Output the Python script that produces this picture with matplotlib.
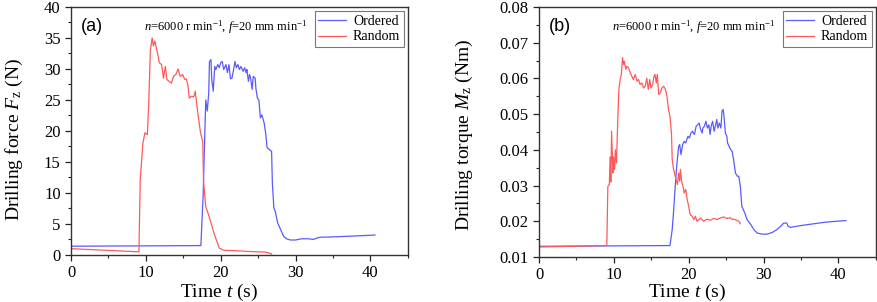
import matplotlib
matplotlib.use("Agg")
import matplotlib.pyplot as plt
from matplotlib.ticker import MultipleLocator, FormatStrFormatter

plt.rcParams['font.family'] = ['Liberation Serif', 'DejaVu Serif']
plt.rcParams['mathtext.fontset'] = 'custom'
plt.rcParams['mathtext.rm'] = 'Liberation Serif'
plt.rcParams['mathtext.it'] = 'Liberation Serif:italic'

# ---- (a) drilling force ----
ta_ord = [0, 17.35, 17.65, 18.0, 18.2, 18.4, 18.5, 18.7, 18.8, 19.0, 19.2, 19.35, 19.6, 19.8, 20.0,
          20.2, 20.4, 20.7, 20.9, 21.1, 21.3, 21.5, 21.8, 21.9, 22.1, 22.3, 22.5, 22.7, 23.0, 23.2,
          23.4, 23.5, 23.7, 23.85, 24.0, 24.2, 24.35, 24.6, 24.7, 24.9, 25.1, 25.3, 25.5, 25.8, 26.0,
          26.2, 26.5, 26.8, 26.9, 27.1, 27.3, 27.6, 28.0, 28.4, 28.8, 29.3, 30.0, 30.8, 31.7, 32.4,
          32.8, 33.3, 34.8, 37.0, 40.6]
fa_ord = [1.4, 1.5, 9.5, 25.0, 23.2, 26.1, 31.2, 31.5, 28.3, 26.4, 30.4, 29.9, 30.7, 30.2, 31.0,
          31.2, 29.9, 30.7, 29.4, 30.7, 28.4, 28.5, 30.4, 31.2, 30.2, 30.7, 29.9, 30.4, 29.6, 30.2,
          29.4, 29.9, 28.0, 29.1, 28.5, 26.7, 28.8, 28.5, 26.9, 25.3, 25.0, 22.1, 22.6, 21.3, 19.7,
          17.3, 17.0, 16.7, 11.6, 7.6, 7.0, 5.2, 4.1, 3.0, 2.6, 2.4, 2.4, 2.6, 2.6, 2.5,
          2.7, 2.85, 2.9, 3.0, 3.2]

ta_rnd = [0, 9.07, 9.25, 9.6, 9.87, 10.2, 10.4, 10.6, 10.84, 11.0, 11.2, 11.6, 11.8, 12.1, 12.35,
          12.6, 12.8, 13.1, 13.4, 13.7, 14.0, 14.3, 14.6, 14.9, 15.2, 15.4, 15.6, 15.8, 16.1, 16.4,
          16.6, 16.7, 17.0, 17.3, 17.6, 17.7, 18.0, 18.45, 19.1, 19.8, 20.4, 21.5, 23.8, 26.0, 26.8]
fa_rnd = [1.0, 0.5, 12.2, 18.0, 19.7, 19.4, 25.0, 33.0, 35.0, 33.7, 34.5, 32.3, 31.0, 30.7, 28.5,
          30.4, 28.3, 28.0, 27.7, 28.8, 29.1, 30.0, 28.8, 29.1, 28.3, 28.4, 27.5, 25.3, 25.6, 25.5,
          26.4, 25.3, 22.4, 19.7, 18.3, 11.9, 7.8, 6.2, 3.5, 1.1, 0.75, 0.7, 0.55, 0.45, 0.15]

# ---- (b) drilling torque ----
tb_ord = [0, 17.5, 17.8, 18.0, 18.2, 18.4, 18.66, 18.8, 18.97, 19.2, 19.4, 19.6, 19.9, 20.1, 20.3,
          20.5, 20.76, 21.0, 21.2, 21.4, 21.6, 21.8, 21.9, 22.1, 22.3, 22.5, 22.7, 22.86, 23.0, 23.2,
          23.4, 23.6, 23.75, 23.9, 24.1, 24.3, 24.46, 24.6, 24.7, 24.9, 25.1, 25.2, 25.4, 25.6, 25.8,
          26.0, 26.25, 26.5, 26.7, 26.9, 27.1, 27.5, 27.8, 28.3, 28.7, 29.15, 29.8, 30.5, 31.2, 31.8,
          32.3, 32.7, 33.1, 33.3, 33.6, 35.0, 36.7, 38.5, 41.0]
mb_ord = [0.0130, 0.0132, 0.0177, 0.0233, 0.0298, 0.0354, 0.0410, 0.0415, 0.0387, 0.0415, 0.0424,
          0.0419, 0.0438, 0.0433, 0.0447, 0.0452, 0.0443, 0.0466, 0.0470, 0.0475, 0.0457, 0.0447,
          0.0461, 0.0466, 0.0480, 0.0461, 0.0470, 0.0443, 0.0466, 0.0480, 0.0452, 0.0470, 0.0485,
          0.0461, 0.0475, 0.0461, 0.0508, 0.0513, 0.0499, 0.0447, 0.0438, 0.0419, 0.0410, 0.0401,
          0.0396, 0.0373, 0.0335, 0.0326, 0.0326, 0.0298, 0.0242, 0.0223, 0.0205, 0.0191, 0.0177,
          0.0167, 0.0164, 0.0164, 0.0169, 0.0177, 0.0186, 0.0195, 0.0195, 0.0186, 0.0183, 0.0188,
          0.0193, 0.0198, 0.0202]

tb_rnd = [0, 9.06, 9.2, 9.4, 9.5, 9.6, 9.7, 9.87, 9.95, 10.1, 10.2, 10.35, 10.5, 10.67, 10.85,
          11.0, 11.16, 11.3, 11.4, 11.6, 11.74, 11.96, 12.2, 12.4, 12.6, 12.86, 13.1, 13.3, 13.5,
          13.75, 13.97, 14.2, 14.4, 14.6, 14.8, 14.96, 15.2, 15.36, 15.5, 15.67, 15.8, 16.0, 16.2,
          16.4, 16.65, 16.9, 17.1, 17.3, 17.5, 17.7, 17.8, 17.95, 18.1, 18.3, 18.5, 18.66, 18.8,
          18.9, 19.06, 19.24, 19.4, 19.6, 19.8, 20.0, 20.2, 20.45, 20.7, 20.9, 21.1, 21.6, 22.0,
          22.45, 22.9, 23.35, 23.8, 24.2, 24.7, 25.1, 25.6, 25.8, 26.0, 26.7, 26.9]
mb_rnd = [0.0128, 0.0132, 0.0298, 0.0303, 0.0380, 0.0310, 0.0452, 0.0335, 0.0380, 0.0345, 0.0400,
          0.0363, 0.0466, 0.0569, 0.0597, 0.0611, 0.0658, 0.0639, 0.0648, 0.0625, 0.0634, 0.0630,
          0.0615, 0.0606, 0.0597, 0.0611, 0.0592, 0.0597, 0.0583, 0.0587, 0.0573, 0.0578, 0.0601,
          0.0569, 0.0597, 0.0573, 0.0583, 0.0606, 0.0611, 0.0587, 0.0611, 0.0555, 0.0559, 0.0573,
          0.0578, 0.0569, 0.0550, 0.0513, 0.0494, 0.0447, 0.0373, 0.0349, 0.0335, 0.0317, 0.0303,
          0.0335, 0.0312, 0.0345, 0.0312, 0.0298, 0.0279, 0.0289, 0.0261, 0.0242, 0.0219, 0.0214,
          0.0205, 0.0214, 0.0200, 0.0209, 0.0200, 0.0206, 0.0203, 0.0208, 0.0205, 0.0209, 0.0212,
          0.0208, 0.0210, 0.0205, 0.0206, 0.0200, 0.0193]

series_labels = ['Ordered', 'Random']
panel_tags = ['(a)', '(b)']
ylabels = [r'Drilling force $F_{\rm z}$ (N)', r'Drilling torque $M_{\rm z}$ (Nm)']
xlabel = r'Time $t$ (s)'
cond = r'$n$=6000 r min$^{-1}$, $f$=20 mm min$^{-1}$'

C_ORD = '#5a5aff'
C_RND = '#ff5a5a'

fig = plt.figure(figsize=(8.77, 3.02), dpi=100)
ax1 = fig.add_axes([0.081, 0.156, 0.384, 0.821])
ax2 = fig.add_axes([0.6146, 0.149, 0.384, 0.828])

def style(ax, ylim, ymaj, ymin, ylabel, tag, xl_y, yl_xy, yfmt=None):
    ax.set_xlim(0, 45)
    ax.set_ylim(*ylim)
    ax.xaxis.set_major_locator(MultipleLocator(10))
    ax.xaxis.set_minor_locator(MultipleLocator(5))
    ax.yaxis.set_major_locator(MultipleLocator(ymaj))
    ax.yaxis.set_minor_locator(MultipleLocator(ymin))
    ax.tick_params(which='major', direction='out', length=4.5, width=0.9, labelsize=12, pad=3,
                   top=False, right=False, colors='#222222', labelcolor='black')
    ax.tick_params(which='minor', direction='out', length=2.5, width=0.8, top=False, right=False,
                   colors='#222222')
    for s in ax.spines.values():
        s.set_linewidth(1.0)
        s.set_color('#333333')
    ax.set_xlabel(xlabel, fontsize=14)
    ax.xaxis.set_label_coords(0.44, xl_y)
    ax.set_ylabel(ylabel, fontsize=14)
    ax.yaxis.set_label_coords(*yl_xy)
    ax.text(0.03, 0.955, tag, transform=ax.transAxes, fontsize=13,
            family='Liberation Sans', va='top', ha='left')
    ax.text(0.46, 0.955, cond, transform=ax.transAxes, fontsize=9, va='top', ha='center')
    leg = ax.legend(loc='upper right', fontsize=10, frameon=True, fancybox=False,
                    borderpad=0.25, handlelength=2.0, handletextpad=0.5, labelspacing=0.2,
                    borderaxespad=0.3, edgecolor='#555555')
    leg.get_frame().set_linewidth(0.8)
    if yfmt:
        ax.yaxis.set_major_formatter(yfmt)

ax1.plot(ta_ord, fa_ord, color=C_ORD, lw=0.9, label=series_labels[0])
ax1.plot(ta_rnd, fa_rnd, color=C_RND, lw=0.9, label=series_labels[1])
style(ax1, (0, 40), 5, 2.5, ylabels[0], panel_tags[0], -0.109, (-0.138, 0.464))

ax2.plot(tb_ord, mb_ord, color=C_ORD, lw=0.9, label=series_labels[0])
ax2.plot(tb_rnd, mb_rnd, color=C_RND, lw=0.9, label=series_labels[1])
style(ax2, (0.01, 0.08), 0.01, 0.005, ylabels[1], panel_tags[1], -0.1, (-0.19, 0.488),
      FormatStrFormatter('%.2f'))

fig.savefig('out.png', dpi=100)
